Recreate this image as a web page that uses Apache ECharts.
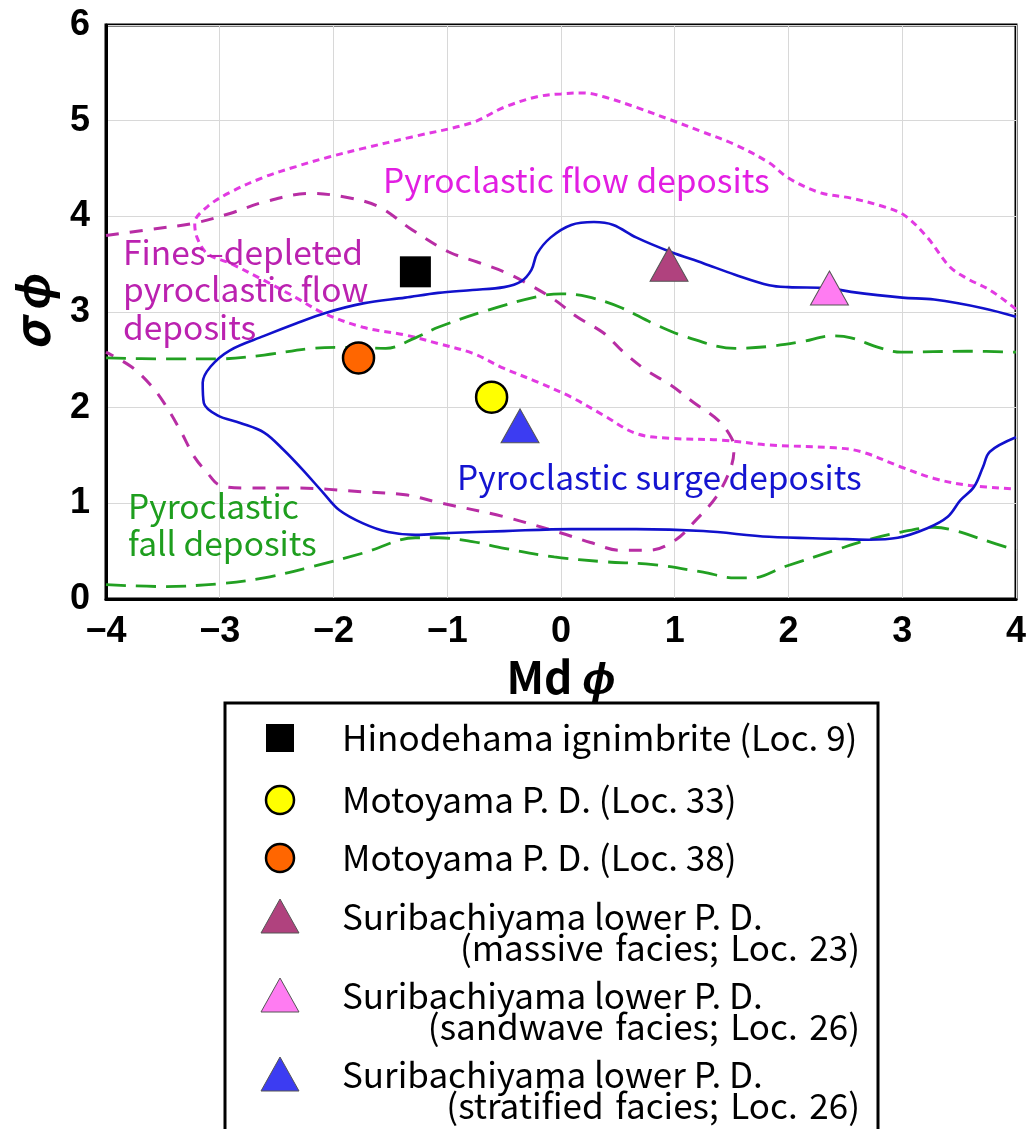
<!DOCTYPE html>
<html>
<head>
<meta charset="utf-8">
<script src="https://cdn.jsdelivr.net/npm/echarts@6/dist/echarts.min.js"></script>
<style>
html,body{margin:0;padding:0;background:#fff;}
#chart{width:1029px;height:1129px;}
</style>
</head>
<body>
<div id="chart"></div>
<script>
// ---- Field outlines (Md phi, sigma phi) ----
const flowUpper = [[4.0,3.03],[3.77,3.23],[3.57,3.35],[3.42,3.47],[3.22,3.78],[3.02,4.01],[2.84,4.10],[2.55,4.19],[2.27,4.25],[2.0,4.40],[1.83,4.56],[1.53,4.75],[1.25,4.88],[0.96,5.01],[0.66,5.14],[0.375,5.25],[0.20,5.29],[0.0,5.28],[-0.21,5.25],[-0.50,5.14],[-0.78,4.98],[-1.31,4.83],[-1.74,4.71],[-2.04,4.62],[-2.33,4.52],[-2.61,4.41],[-2.91,4.25],[-3.11,4.10],[-3.22,3.93]];
const flowLower = [[-3.2,3.78],[-3.11,3.61],[-2.91,3.51],[-2.61,3.33],[-2.33,3.15],[-2.09,2.99],[-1.74,2.84],[-1.37,2.76],[-1.08,2.67],[-0.78,2.57],[-0.50,2.41],[-0.21,2.27],[0.09,2.11],[0.375,1.92],[0.66,1.73],[0.96,1.68],[1.42,1.66],[1.83,1.61],[2.41,1.58],[2.64,1.54],[2.99,1.38],[3.28,1.26],[3.57,1.19],[4.0,1.15]];
const finesDepleted = [[-4.0,3.80],[-3.63,3.86],[-3.22,3.93],[-2.91,4.03],[-2.61,4.15],[-2.21,4.24],[-1.89,4.20],[-1.60,4.10],[-1.31,3.86],[-0.99,3.63],[-0.73,3.52],[-0.50,3.42],[-0.30,3.30],[-0.06,3.13],[0.14,2.95],[0.375,2.78],[0.55,2.58],[0.75,2.39],[0.96,2.24],[1.16,2.06],[1.38,1.87],[1.50,1.68],[1.52,1.55],[1.48,1.33],[1.36,1.06],[1.19,0.83],[1.01,0.62],[0.78,0.51],[0.52,0.51],[0.26,0.59],[0.0,0.69],[-0.50,0.86],[-1.08,1.01],[-1.37,1.09],[-1.74,1.12],[-2.33,1.16],[-2.76,1.16],[-3.0,1.19],[-3.11,1.32],[-3.22,1.48],[-3.35,1.77],[-3.49,2.05],[-3.61,2.24],[-3.78,2.43],[-4.0,2.58]];
const surge = [[4.0,2.95],[3.71,3.04],[3.28,3.13],[3.0,3.15],[2.55,3.21],[2.35,3.25],[2.0,3.26],[1.83,3.28],[1.53,3.39],[1.25,3.51],[0.96,3.63],[0.66,3.78],[0.46,3.91],[0.29,3.94],[0.09,3.91],[-0.09,3.78],[-0.21,3.61],[-0.26,3.44],[-0.35,3.32],[-0.50,3.26],[-0.78,3.23],[-1.08,3.20],[-1.37,3.15],[-1.74,3.09],[-2.07,2.99],[-2.33,2.88],[-2.61,2.75],[-2.91,2.60],[-3.08,2.43],[-3.15,2.26],[-3.14,2.05],[-3.02,1.92],[-2.82,1.84],[-2.61,1.74],[-2.44,1.56],[-2.27,1.35],[-2.09,1.11],[-1.95,0.93],[-1.74,0.79],[-1.52,0.70],[-1.28,0.67],[-0.99,0.69],[-0.50,0.71],[0.09,0.73],[0.66,0.73],[1.25,0.71],[1.83,0.65],[2.41,0.63],[2.70,0.62],[2.96,0.64],[3.22,0.74],[3.40,0.86],[3.51,1.03],[3.63,1.17],[3.71,1.38],[3.77,1.54],[4.0,1.69]];
const fallUpper = [[-4.0,2.52],[-3.49,2.51],[-3.0,2.51],[-2.61,2.55],[-2.18,2.62],[-1.89,2.63],[-1.54,2.62],[-1.28,2.73],[-1.08,2.84],[-0.64,3.02],[-0.21,3.16],[0.0,3.19],[0.23,3.16],[0.52,3.05],[0.81,2.88],[1.10,2.74],[1.53,2.62],[1.83,2.64],[2.12,2.69],[2.38,2.75],[2.55,2.73],[2.79,2.63],[2.99,2.58],[3.57,2.59],[4.0,2.58]];
const fallLower = [[-4.0,0.15],[-3.49,0.13],[-3.0,0.16],[-2.61,0.22],[-2.18,0.34],[-1.74,0.48],[-1.28,0.64],[-1.08,0.64],[-0.78,0.60],[-0.50,0.53],[-0.06,0.44],[0.375,0.39],[0.81,0.36],[1.25,0.28],[1.53,0.22],[1.68,0.22],[1.97,0.34],[2.41,0.51],[2.70,0.62],[2.99,0.70],[3.28,0.75],[3.45,0.72],[3.71,0.62],[4.0,0.51]];

// ---- Samples ----
const sampleNames = [
  'Hinodehama ignimbrite (Loc. 9)',
  'Motoyama P. D. (Loc. 33)',
  'Motoyama P. D. (Loc. 38)',
  'Suribachiyama lower P. D.\n(massive facies; Loc. 23)',
  'Suribachiyama lower P. D.\n(sandwave facies; Loc. 26)',
  'Suribachiyama lower P. D.\n(stratified facies; Loc. 26)'
];
const sampleMd =    [-1.28, -0.61, -1.78, 0.95, 2.36, -0.36];
const sampleSigma = [ 3.42,  2.11,  2.52, 3.50, 3.25,  1.81];
const sampleSymbols = ['rect','circle','circle','triangle','triangle','triangle'];
const sampleColors = ['#000000','#ffff00','#ff6600','#b0427e','#ff7cf2','#3c3cf2'];

// ---- Axis ticks ----
const xTicks = [-4,-3,-2,-1,0,1,2,3,4];
const yTicks = [0,1,2,3,4,5,6];

const FONT = '"Noto Sans CJK JP", "Liberation Sans", sans-serif';

const flowPath = flowUpper.concat(flowLower);

function sampleStyle(i) {
  const sym = sampleSymbols[i];
  if (sym === 'rect') return {size: 31, itemStyle: {color: sampleColors[i], borderWidth: 0, opacity: 1}};
  if (sym === 'circle') return {size: 31, itemStyle: {color: sampleColors[i], borderColor: '#000', borderWidth: 2.5, opacity: 1}};
  return {size: [38, 34], itemStyle: {color: sampleColors[i], borderColor: '#555', borderWidth: 1, opacity: 1}};
}

const series = [
  {type:'line', name:'flow', data: flowPath, smooth:0.35, symbol:'none', lineStyle:{color:'#e23ae2', width:3, type:[7,5]}, z:2, silent:true},
  {type:'line', name:'fines', data: finesDepleted, smooth:0.35, symbol:'none', lineStyle:{color:'#b82da4', width:3, type:[13,11]}, z:2, silent:true},
  {type:'line', name:'surge', data: surge, smooth:0.35, symbol:'none', lineStyle:{color:'#1111cc', width:2.6}, z:3, silent:true},
  {type:'line', name:'fallU', data: fallUpper, smooth:0.35, symbol:'none', lineStyle:{color:'#22a022', width:2.8, type:[20,10]}, z:2, silent:true},
  {type:'line', name:'fallL', data: fallLower, smooth:0.35, symbol:'none', lineStyle:{color:'#22a022', width:2.8, type:[20,10]}, z:2, silent:true}
];
sampleNames.forEach((n, i) => {
  const st = sampleStyle(i);
  series.push({type:'scatter', name:n, data:[[sampleMd[i], sampleSigma[i]]], symbol: sampleSymbols[i], symbolSize: st.size, itemStyle: st.itemStyle, z:5});
});

// ---- Legend (drawn as graphic) ----
const legendRowY = [738, 800, 858, 917, 996, 1075];
const legendGraphics = [{type:'rect', shape:{x:225, y:703, width:653, height:460}, style:{fill:'#fff', stroke:'#000', lineWidth:3}, z:10}];
sampleNames.forEach((n, i) => {
  const cy = legendRowY[i];
  const sym = sampleSymbols[i];
  const col = sampleColors[i];
  if (sym === 'rect') {
    legendGraphics.push({type:'rect', shape:{x:266, y:cy-14, width:28, height:28}, style:{fill:col}, z:11});
  } else if (sym === 'circle') {
    legendGraphics.push({type:'ellipse', shape:{cx:280, cy:cy, rx:14, ry:14}, style:{fill:col, stroke:'#000', lineWidth:2.5}, z:11});
  } else {
    legendGraphics.push({type:'polygon', shape:{points:[[280,cy-18],[299,cy+16],[261,cy+16]]}, style:{fill:col, stroke:'#555', lineWidth:1}, z:11});
  }
  const lines = n.split('\n');
  legendGraphics.push({type:'text', style:{text:lines[0], x:342, y:cy, fill:'#000', font:'35px ' + FONT, textAlign:'left', textVerticalAlign:'middle'}, z:11});
  if (lines[1]) {
    legendGraphics.push({type:'text', style:{text:lines[1].replace(/ /g, '\u2004'), x:860, y:cy+31, fill:'#000', font:'35px ' + FONT, textAlign:'right', textVerticalAlign:'middle'}, z:11});
  }
});

// ---- Field labels ----
const fieldLabels = [
  {text:'Pyroclastic flow deposits', x:383, y:180, color:'#e21ee2'},
  {text:'Fines\u2013depleted\npyroclastic flow\ndeposits', x:123, y:252, color:'#bb22b0'},
  {text:'Pyroclastic surge deposits', x:457, y:477, color:'#1414d0'},
  {text:'Pyroclastic\nfall deposits', x:128, y:506, color:'#1e9e1e'}
];
const LH = 37.5;
const labelGraphics = fieldLabels.map(l => {
  const nLines = l.text.split('\n').length;
  return {type:'text', style:{text:l.text, x:l.x, y:l.y + (nLines - 1) * LH / 2, fill:l.color, font:'33.5px ' + FONT, textAlign:'left', textVerticalAlign:'middle', lineHeight:LH}, z:4};
});

const chart = echarts.init(document.getElementById('chart'), null, {renderer:'canvas'});
chart.setOption({
  animation:false,
  backgroundColor:'#fff',
  grid:{left:98, right:13, top:25, bottom:530, show:true, borderColor:'#000', borderWidth:3, backgroundColor:'transparent'},
  xAxis:{
    type:'value', min:xTicks[0], max:xTicks[xTicks.length-1], interval:1,
    axisLine:{show:true, onZero:false, lineStyle:{color:'#000', width:3}},
    axisTick:{show:false},
    splitLine:{show:true, lineStyle:{color:'#d8d8d8', width:1}},
    axisLabel:{color:'#000', fontSize:36, fontWeight:'bold', fontFamily:'"Liberation Sans", sans-serif', margin:15,
      formatter: v => (v < 0 ? '\u2212' + Math.abs(v) : String(v))},
    name:'{m|Md}{p| \u03d5}', nameLocation:'middle', nameGap:44,
    nameTextStyle:{rich:{m:{fontSize:44, fontWeight:'bold', color:'#000', fontFamily:FONT}, p:{fontSize:44, fontWeight:'bold', fontStyle:'italic', color:'#000', fontFamily:FONT}}}
  },
  yAxis:{
    type:'value', min:yTicks[0], max:yTicks[yTicks.length-1], interval:1,
    axisLine:{show:true, onZero:false, lineStyle:{color:'#000', width:3}},
    axisTick:{show:false},
    splitLine:{show:true, lineStyle:{color:'#d8d8d8', width:1}},
    axisLabel:{color:'#000', fontSize:36, fontWeight:'bold', fontFamily:'"Liberation Sans", sans-serif', margin:16},
    name:'{p|\u03c3 \u03d5}', nameLocation:'middle', nameGap:50, nameRotate:90,
    nameTextStyle:{rich:{p:{fontSize:48, fontWeight:'bold', fontStyle:'italic', color:'#000', fontFamily:FONT}}}
  },
  series: series,
  graphic: labelGraphics.concat(legendGraphics)
});
</script>
</body>
</html>
